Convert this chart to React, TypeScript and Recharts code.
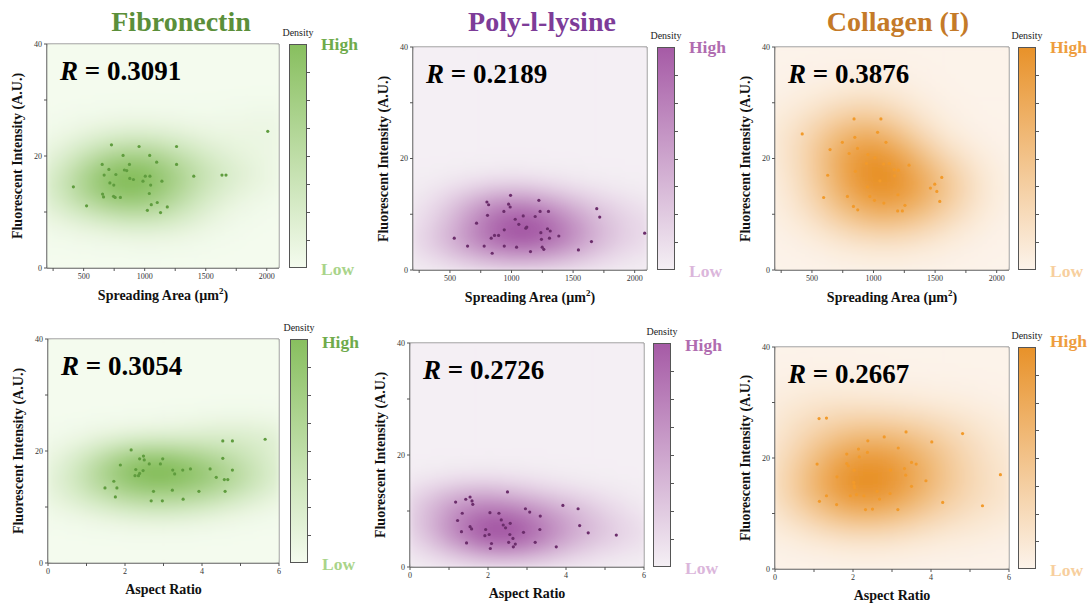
import { ScatterChart, Scatter, XAxis, YAxis, ReferenceArea, CartesianGrid } from 'recharts'

const SERIF = "'Liberation Serif', 'Times New Roman', serif"

// ---- data ----
const fnAreaX = [416, 524, 728, 954, 1261, 823, 1041, 1098, 1261, 652, 875, 707, 834, 853, 668, 764, 1005, 1043, 1402, 1633, 1666, 878, 908, 986, 1141, 715, 747, 1049, 655, 663, 745, 758, 801, 1038, 1103, 1054, 1185, 1022, 1130, 2008]
const fnAreaY = [14.5, 11.1, 22.0, 21.7, 21.7, 20.1, 20.1, 18.9, 18.5, 18.5, 18.5, 17.6, 17.5, 17.4, 16.6, 16.7, 16.4, 16.4, 16.4, 16.6, 16.6, 16.0, 15.8, 15.5, 15.5, 15.2, 14.8, 14.8, 13.2, 12.7, 12.8, 12.6, 12.6, 13.3, 11.7, 11.3, 10.9, 10.3, 9.9, 24.4]

const plAreaX = [535, 643, 716, 778, 800, 814, 805, 835, 843, 862, 895, 938, 941, 941, 976, 989, 992, 1030, 1041, 1059, 1095, 1116, 1124, 1154, 1192, 1222, 1232, 1238, 1243, 1249, 1262, 1292, 1314, 1308, 1300, 1384, 1543, 1649, 1692, 1716, 2081]
const plAreaY = [5.7, 4.3, 8.4, 4.3, 12.2, 11.7, 9.8, 5.7, 3.0, 6.2, 6.2, 10.5, 7.2, 4.3, 11.8, 11.3, 13.4, 9.1, 4.1, 8.2, 9.7, 7.5, 7.7, 3.3, 9.6, 12.5, 10.5, 6.7, 5.5, 4.1, 3.7, 7.4, 7.0, 5.7, 10.5, 6.1, 3.6, 5.1, 11.0, 9.5, 6.6]

const colAreaX = [421, 595, 628, 647, 747, 788, 802, 837, 842, 848, 853, 870, 872, 954, 943, 951, 970, 1008, 1011, 1033, 1060, 1082, 1084, 1101, 1052, 1128, 1171, 1201, 1168, 1198, 1196, 1234, 1255, 1288, 1462, 1497, 1514, 1538, 1554]
const colAreaY = [24.4, 13.0, 17.0, 21.6, 22.9, 13.2, 20.9, 11.4, 27.1, 23.8, 17.7, 21.8, 10.8, 20.7, 19.1, 14.9, 13.2, 12.5, 20.1, 24.7, 27.1, 19.0, 12.0, 22.9, 16.0, 19.1, 16.9, 17.9, 18.0, 13.5, 10.6, 10.6, 11.6, 18.8, 14.7, 15.4, 14.1, 12.3, 16.6]

const fnAspX = [1.48, 1.71, 1.75, 1.79, 1.88, 2.16, 2.28, 2.26, 2.35, 2.38, 2.38, 2.47, 2.48, 2.50, 2.63, 2.68, 2.74, 2.92, 2.97, 2.98, 3.24, 3.23, 3.29, 3.50, 3.51, 3.70, 3.92, 4.21, 4.37, 4.54, 4.54, 4.58, 4.67, 4.60, 4.79, 4.79, 5.64]
const fnAspY = [13.4, 14.6, 11.8, 13.4, 17.5, 20.2, 16.7, 15.6, 15.6, 18.6, 16.0, 16.5, 19.1, 18.4, 17.7, 11.1, 12.8, 17.7, 11.1, 18.6, 16.6, 13.0, 15.9, 16.6, 11.4, 16.8, 12.8, 16.8, 15.3, 21.8, 18.7, 14.9, 14.9, 12.8, 21.8, 16.6, 22.1]

const plAspX = [1.17, 1.22, 1.32, 1.34, 1.43, 1.45, 1.54, 1.59, 1.61, 1.54, 1.58, 1.94, 1.92, 2.03, 2.05, 2.09, 2.06, 2.28, 2.34, 2.39, 2.45, 2.50, 2.53, 2.56, 2.57, 2.64, 2.65, 2.70, 2.91, 2.96, 3.07, 3.21, 3.33, 3.34, 3.75, 3.92, 4.31, 4.35, 4.57, 5.29]
const plAspY = [11.6, 8.3, 6.3, 9.6, 12.1, 4.3, 12.5, 11.8, 11.2, 7.2, 6.8, 6.7, 5.6, 5.8, 9.7, 4.2, 3.3, 9.6, 8.4, 7.5, 7.0, 13.4, 4.4, 5.8, 7.8, 5.1, 3.6, 4.1, 6.2, 10.4, 9.8, 4.4, 6.7, 9.1, 3.6, 11.0, 10.4, 7.4, 6.1, 5.7]

const colAspX = [1.08, 1.13, 1.14, 1.32, 1.32, 1.59, 1.58, 1.84, 1.84, 1.88, 1.93, 2.03, 2.02, 2.03, 2.04, 2.09, 2.14, 2.16, 2.28, 2.32, 2.37, 2.38, 2.50, 2.62, 2.68, 2.80, 2.95, 2.96, 3.16, 3.15, 3.32, 3.35, 3.36, 3.50, 3.50, 3.62, 3.87, 4.02, 4.30, 4.81, 5.32, 5.78]
const colAspY = [18.9, 27.1, 12.2, 27.2, 13.2, 16.6, 11.6, 20.7, 19.0, 18.6, 13.2, 17.8, 15.6, 15.0, 14.6, 13.4, 21.6, 20.2, 13.2, 10.7, 21.0, 23.1, 10.8, 14.0, 12.6, 23.8, 13.6, 17.8, 21.8, 10.7, 18.1, 16.9, 24.7, 19.2, 14.9, 18.9, 15.9, 22.9, 12.0, 24.4, 11.4, 17.0]

const rValues = ['0.3091', '0.2189', '0.3876', '0.3054', '0.2726', '0.2667']
const titles = ['Fibronectin', 'Poly-l-lysine', 'Collagen (I)']
const areaTicks = [250, 500, 750, 1000, 1250, 1500, 1750, 2000]
const aspectTicks = [0, 1, 2, 3, 4, 5, 6]
const yTicks = [0, 10, 20, 30, 40]

const themes = {
  green: { low: '#f4fbee', high: '#88bf5f', dot: '#5f9c3e', title: '#5b8f3a', hi: '#6fab4b', lo: '#a9d48a' },
  purple: { low: '#f4eff4', high: '#a65ba6', dot: '#6b2d6b', title: '#7d3c98', hi: '#b06cb0', lo: '#dbb6db' },
  orange: { low: '#fcf3ea', high: '#e8922a', dot: '#f29a2a', title: '#c47a28', hi: '#ee9d3e', lo: '#f7cf9e' },
}

const GRID = 50
const BW = 1.8

function hexToRgb(h: string) {
  return [1, 3, 5].map((i) => parseInt(h.slice(i, i + 2), 16))
}
function mix(a: string, b: string, t: number) {
  const A = hexToRgb(a), B = hexToRgb(b)
  return `rgb(${A.map((v, i) => Math.round(v + (B[i] - v) * t)).join(',')})`
}

function sd(a: number[]) {
  const m = a.reduce((s, v) => s + v, 0) / a.length
  return Math.sqrt(a.reduce((s, v) => s + (v - m) ** 2, 0) / (a.length - 1))
}

// gaussian kde of the points on a grid, coloured low -> high
function densityCells(xs: number[], ys: number[], xd: number[], yd: number[], low: string, high: string) {
  const f = Math.pow(xs.length, -1 / 6) * BW
  const hx = sd(xs) * f, hy = sd(ys) * f
  const raw: { x: number; y: number; d: number }[] = []
  let max = 0
  for (let i = 0; i < GRID; i++) {
    for (let j = 0; j < GRID; j++) {
      const gx = xd[0] + ((i + 0.5) * (xd[1] - xd[0])) / GRID
      const gy = yd[0] + ((j + 0.5) * (yd[1] - yd[0])) / GRID
      let d = 0
      for (let k = 0; k < xs.length; k++) {
        const u = (gx - xs[k]) / hx, v = (gy - ys[k]) / hy
        d += Math.exp(-0.5 * (u * u + v * v))
      }
      if (d > max) max = d
      raw.push({ x: gx, y: gy, d })
    }
  }
  return raw.map((c) => ({ x: c.x, y: c.y, fill: mix(low, high, Math.pow(c.d / max, 0.9)) }))
}

interface PanelCfg {
  xs: number[]
  ys: number[]
  r: string
  title?: string
  titleX?: number
  theme: keyof typeof themes
  kind: 'area' | 'aspect'
  box: { x: number; y: number; w: number; h: number }
  cbX: number
  hiDy: number
}

const panels: PanelCfg[] = [
  { xs: fnAreaX, ys: fnAreaY, r: rValues[0], title: titles[0], titleX: 181, theme: 'green', kind: 'area', box: { x: 47, y: 44, w: 232, h: 224 }, cbX: 289, hiDy: 0 },
  { xs: plAreaX, ys: plAreaY, r: rValues[1], title: titles[1], titleX: 542, theme: 'purple', kind: 'area', box: { x: 413, y: 47, w: 234, h: 223 }, cbX: 657, hiDy: 0 },
  { xs: colAreaX, ys: colAreaY, r: rValues[2], title: titles[2], titleX: 898, theme: 'orange', kind: 'area', box: { x: 775, y: 47, w: 234, h: 223 }, cbX: 1018, hiDy: 0 },
  { xs: fnAspX, ys: fnAspY, r: rValues[3], theme: 'green', kind: 'aspect', box: { x: 48, y: 339, w: 231, h: 224 }, cbX: 290, hiDy: 3 },
  { xs: plAspX, ys: plAspY, r: rValues[4], theme: 'purple', kind: 'aspect', box: { x: 410, y: 343, w: 234, h: 224 }, cbX: 653, hiDy: 2 },
  { xs: colAspX, ys: colAspY, r: rValues[5], theme: 'orange', kind: 'aspect', box: { x: 775, y: 347, w: 234, h: 222 }, cbX: 1018, hiDy: -6 },
]

function Panel({ cfg }: { cfg: PanelCfg }) {
  const th = themes[cfg.theme]
  const { box } = cfg
  const xDomain = cfg.kind === 'area' ? [200, 2100] : [0, 6]
  const yDomain = [0, 40]
  const cells = densityCells(cfg.xs, cfg.ys, xDomain, yDomain, th.low, th.high)
  const points = cfg.xs.map((x, i) => ({ x, y: cfg.ys[i] }))
  const cw = box.w / GRID + 0.8
  const ch = box.h / GRID + 0.8
  const cbW = 18

  return (
    <>
      {cfg.title && (
        <div style={{ position: 'absolute', left: (cfg.titleX ?? 0) - 150, width: 300, top: 7, textAlign: 'center', fontFamily: SERIF, fontWeight: 'bold', fontSize: 28, lineHeight: '30px', color: th.title }}>
          {cfg.title}
        </div>
      )}
      <div style={{ position: 'absolute', left: box.x - 50, top: box.y - 10 }}>
        <ScatterChart width={box.w + 60} height={box.h + 50} margin={{ top: 10, right: 10, left: 0, bottom: 0 }}>
          <CartesianGrid horizontal={false} vertical={false} fill={th.low} stroke="none" />
          <XAxis
            type="number"
            dataKey="x"
            domain={xDomain}
            allowDataOverflow
            ticks={cfg.kind === 'area' ? areaTicks : aspectTicks}
            interval={0}
            tickFormatter={(v: number) => (cfg.kind === 'area' ? (v % 500 === 0 ? String(v) : '') : (v % 2 === 0 ? String(v) : ''))}
            tick={{ fontSize: 8, fill: '#333', fontFamily: SERIF }}
            tickSize={3}
            tickMargin={2}
            height={40}
            stroke="#555"
          />
          <YAxis
            type="number"
            dataKey="y"
            domain={yDomain}
            allowDataOverflow
            ticks={yTicks}
            interval={0}
            tickFormatter={(v: number) => (v % 20 === 0 ? String(v) : '')}
            tick={{ fontSize: 8, fill: '#333', fontFamily: SERIF }}
            tickSize={3}
            tickMargin={2}
            width={50}
            stroke="#555"
          />
          <Scatter
            className="density-layer"
            data={cells}
            isAnimationActive={false}
            shape={(p: any) => <rect x={p.cx - cw / 2} y={p.cy - ch / 2} width={cw} height={ch} fill={p.payload.fill} />}
          />
          <Scatter
            data={points}
            isAnimationActive={false}
            shape={(p: any) => <circle cx={p.cx} cy={p.cy} r={1.6} fill={th.dot} />}
          />
          <ReferenceArea x1={xDomain[0]} x2={xDomain[1]} y1={0} y2={40} fill="none" stroke="#777" strokeWidth={1} />
        </ScatterChart>
      </div>

      {/* R value */}
      <div style={{ position: 'absolute', left: box.x + 13, top: box.y + 14, fontFamily: SERIF, fontWeight: 'bold', fontSize: 27, lineHeight: '27px', color: '#000', whiteSpace: 'nowrap' }}>
        <i>R</i> = {cfg.r}
      </div>

      {/* axis titles */}
      <div style={{ position: 'absolute', left: box.x - 29, top: box.y + box.h / 2, transform: 'translate(-50%, -50%) rotate(-90deg)', fontFamily: SERIF, fontWeight: 'bold', fontSize: 14, whiteSpace: 'nowrap', color: '#111' }}>
        Fluorescent Intensity (A.U.)
      </div>
      <div style={{ position: 'absolute', left: box.x + box.w / 2, top: box.y + box.h + 27, transform: 'translate(-50%, -50%)', fontFamily: SERIF, fontWeight: 'bold', fontSize: 14, whiteSpace: 'nowrap', color: '#111' }}>
        {cfg.kind === 'area' ? <>Spreading Area (µm<sup style={{ fontSize: 9 }}>2</sup>)</> : 'Aspect Ratio'}
      </div>

      {/* colour bar */}
      <div style={{ position: 'absolute', left: cfg.cbX + cbW / 2 - 30, width: 60, top: box.y - 16, textAlign: 'center', fontFamily: SERIF, fontSize: 10, lineHeight: '10px', color: '#222' }}>
        Density
      </div>
      <div style={{ position: 'absolute', left: cfg.cbX, top: box.y, width: cbW, height: box.h, boxSizing: 'border-box', border: '1px solid #555', background: `linear-gradient(to bottom, ${th.high}, ${th.low})` }} />
      {[1, 2, 3, 4, 5, 6, 7].map((k) => (
        <div key={k} style={{ position: 'absolute', left: cfg.cbX + cbW, top: box.y + (box.h * k) / 8, width: 3, height: 1, background: '#555' }} />
      ))}
      <div style={{ position: 'absolute', left: cfg.cbX + cbW + 14, top: box.y + cfg.hiDy - 10, fontFamily: SERIF, fontWeight: 'bold', fontSize: 17.5, lineHeight: '20px', color: th.hi }}>
        High
      </div>
      <div style={{ position: 'absolute', left: cfg.cbX + cbW + 14, top: box.y + box.h - 9, fontFamily: SERIF, fontWeight: 'bold', fontSize: 17.5, lineHeight: '20px', color: th.lo }}>
        Low
      </div>
    </>
  )
}

export default function App() {
  return (
    <div style={{ position: 'absolute', left: 0, top: 0, width: 1088, height: 608, background: '#fff', overflow: 'hidden' }}>
      <style>{'.density-layer { filter: url(#density-blur); }'}</style>
      <svg width={0} height={0} style={{ position: 'absolute' }}>
        <defs>
          <filter id="density-blur" x="-5%" y="-5%" width="110%" height="110%">
            <feGaussianBlur stdDeviation={2.5} edgeMode="duplicate" />
          </filter>
        </defs>
      </svg>
      {panels.map((p, i) => (
        <Panel key={i} cfg={p} />
      ))}
    </div>
  )
}
